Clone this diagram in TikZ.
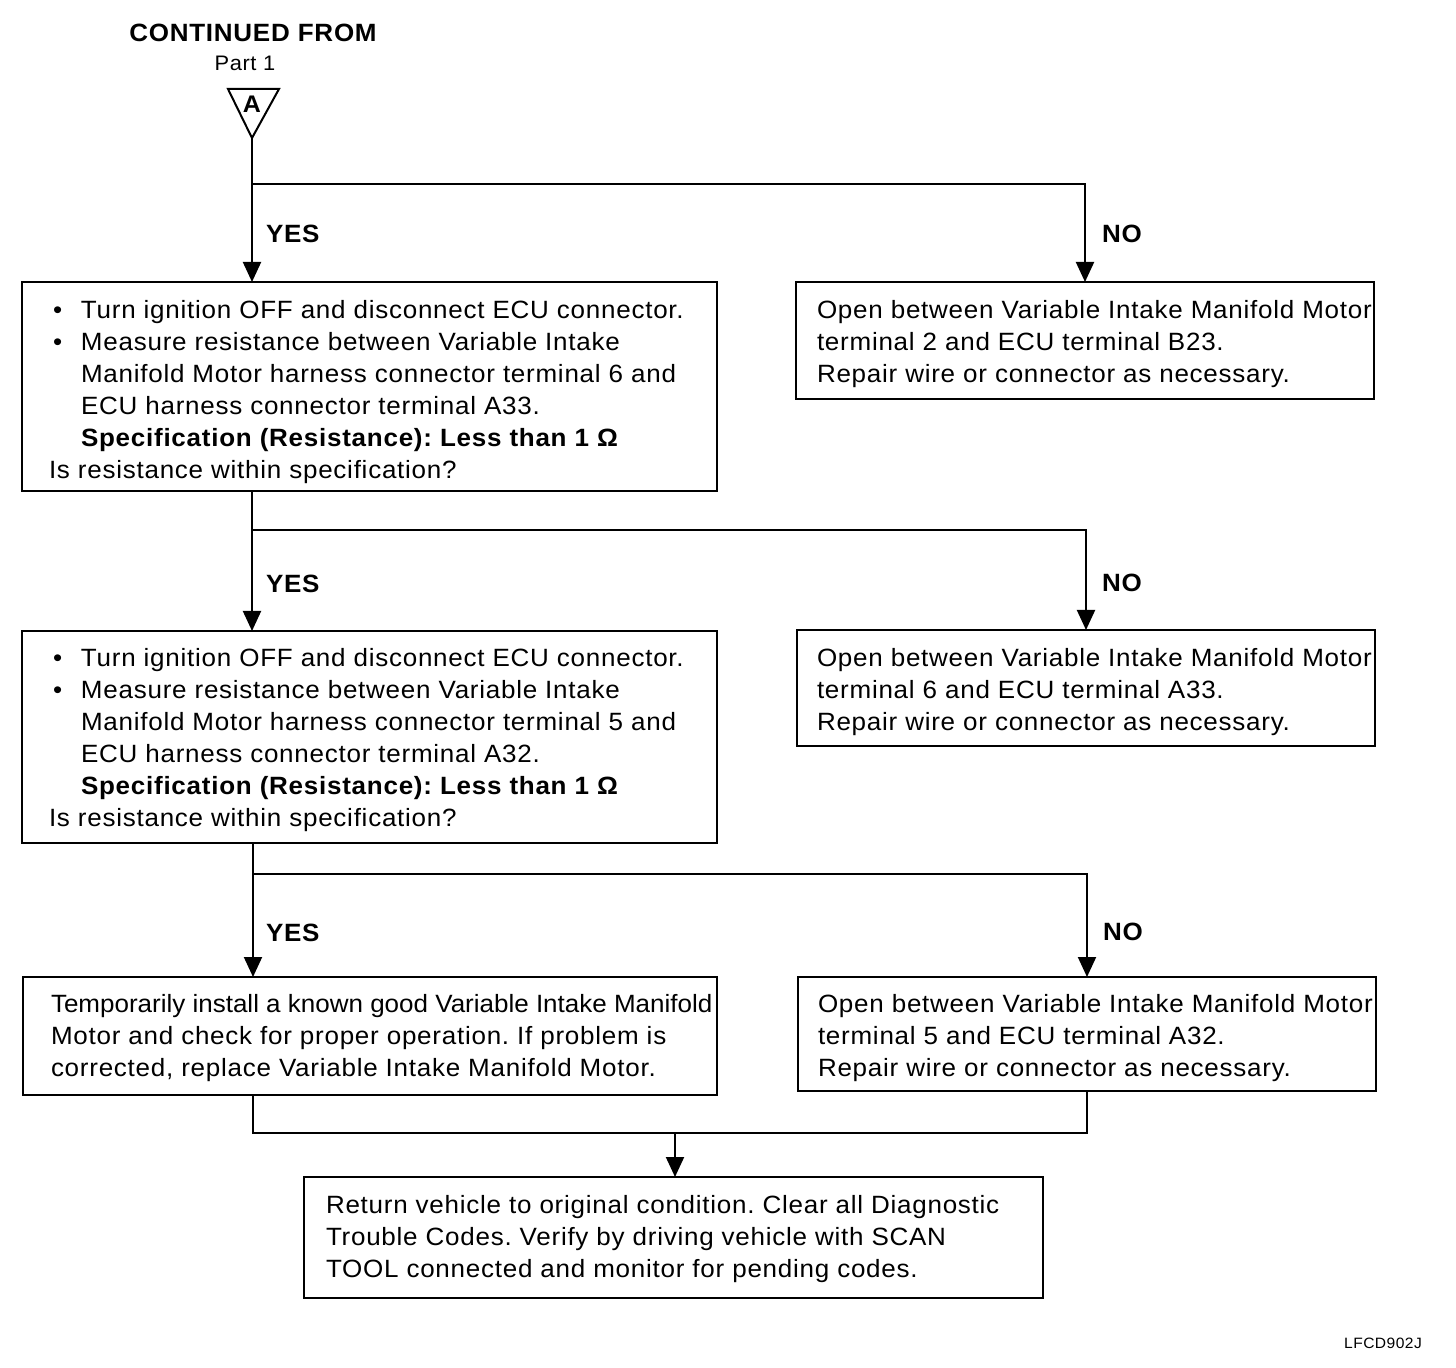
\documentclass[tikz,border=0pt]{standalone}
\usepackage{fontspec}
\setmainfont[LetterSpace=3,FakeStretch=1.04]{Liberation Sans}
\usetikzlibrary{arrows.meta}
\begin{document}
\frenchspacing
\begin{tikzpicture}[x=0.5pt,y=-0.5pt, line width=1pt,
  box/.style={draw, line width=1pt, anchor=north west, inner sep=0pt, outer sep=0pt},
  txt/.style={anchor=north west, inner sep=0pt, align=left, font=\fontsize{12.5}{16}\selectfont},
  lbl/.style={anchor=base west, inner sep=0pt, font=\fontsize{12.5}{15}\selectfont\bfseries},
  arr/.style={-{Triangle[length=10pt,width=9pt]}}]
\newcommand{\bul}{\hspace*{2pt}\makebox[14pt][l]{•}}
\newcommand{\ind}{\hspace*{16pt}}
\useasboundingbox (0,0) rectangle (1456,1368);

% header
\node[anchor=base, inner sep=0pt, font=\fontsize{12.5}{15}\selectfont\bfseries] (cont) at (253,42) {CONTINUED FROM};
\node[anchor=base, inner sep=0pt, font=\fontsize{10.5}{12}\selectfont] (part) at (245,71) {Part 1};
\coordinate (apex) at (252,138);
\draw (228,89) -- (279,89) -- (apex) -- cycle;
\node[inner sep=0pt, font=\fontsize{12}{14}\selectfont\bfseries] (A) at (252,104) {A};

% boxes
\node[box, minimum width=347.5pt, minimum height=104.5pt] (b1) at (22,282) {};
\node[box, minimum width=289pt, minimum height=58.5pt] (n1) at (796,282) {};
\node[box, minimum width=347.5pt, minimum height=106pt] (b2) at (22,631) {};
\node[box, minimum width=289pt, minimum height=58pt] (n2) at (797,630) {};
\node[box, minimum width=347pt, minimum height=59pt] (b3) at (23,977) {};
\node[box, minimum width=289pt, minimum height=57pt] (n3) at (798,977) {};
\node[box, minimum width=369.5pt, minimum height=60.5pt] (fin) at (304,1177) {};

% texts
\node[txt] (t1) at (48,299) {\bul Turn ignition OFF and disconnect ECU connector.\\
\bul Measure resistance between Variable Intake\\
\ind Manifold Motor harness connector terminal 6 and\\
\ind ECU harness connector terminal A33.\\
\ind\textbf{Specification (Resistance): Less than 1 Ω}\\
Is resistance within specification?};
\node[txt] (tn1) at (816,299) {Open between Variable Intake Manifold Motor\\
terminal 2 and ECU terminal B23.\\
Repair wire or connector as necessary.};
\node[txt] (t2) at (48,647) {\bul Turn ignition OFF and disconnect ECU connector.\\
\bul Measure resistance between Variable Intake\\
\ind Manifold Motor harness connector terminal 5 and\\
\ind ECU harness connector terminal A32.\\
\ind\textbf{Specification (Resistance): Less than 1 Ω}\\
Is resistance within specification?};
\node[txt] (tn2) at (816,647) {Open between Variable Intake Manifold Motor\\
terminal 6 and ECU terminal A33.\\
Repair wire or connector as necessary.};
\node[txt] (t3) at (50,993) {{\addfontfeature{LetterSpace=0}Temporarily install a known good Variable Intake Manifold}\\
Motor and check for proper operation. If problem is\\
corrected, replace Variable Intake Manifold Motor.};
\node[txt] (tn3) at (817,993) {Open between Variable Intake Manifold Motor\\
terminal 5 and ECU terminal A32.\\
Repair wire or connector as necessary.};
\node[txt] (tf) at (325,1194) {Return vehicle to original condition. Clear all Diagnostic\\
Trouble Codes. Verify by driving vehicle with SCAN\\
TOOL connected and monitor for pending codes.};

% connectors
\coordinate (j1) at (252,184);
\coordinate (j2) at (252,530);
\coordinate (j3) at (253,874);
\coordinate (j4) at (253,1133);
\coordinate (j5) at (675,1133);
\draw[arr] (apex) -- (b1.north -| apex);
\draw[arr] (j1) -| (n1.north);
\draw[arr] (b1.south -| j2) -- (b2.north -| j2);
\draw[arr] (j2) -| (n2.north);
\draw[arr] (b2.south -| j3) -- (b3.north -| j3);
\draw[arr] (j3) -| (n3.north);
\draw (b3.south -| j4) -- (j4) -| (n3.south);
\draw[arr] (j5) -- (fin.north -| j5);

% labels
\node[lbl] (y1) at (265,243) {YES};
\node[lbl] (no1) at (1101,243) {NO};
\node[lbl] (y2) at (265,593) {YES};
\node[lbl] (no2) at (1101,592) {NO};
\node[lbl] (y3) at (265,941) {YES};
\node[lbl] (no3) at (1102,940) {NO};

\node[inner sep=0pt, font=\fontsize{7.5}{9}\selectfont] (code) at (1383,1343) {LFCD902J};
\end{tikzpicture}
\end{document}
